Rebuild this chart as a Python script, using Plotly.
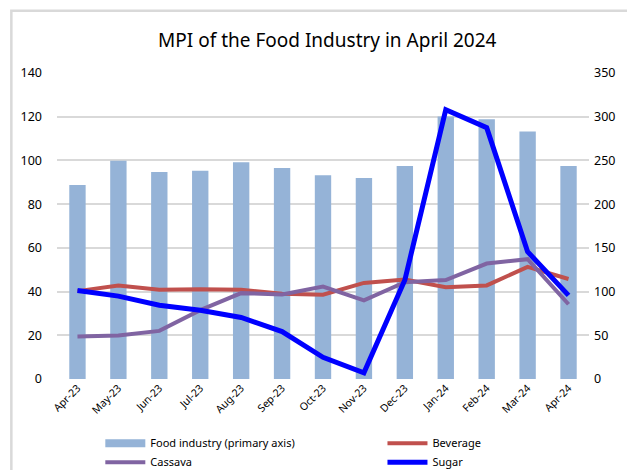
import plotly.graph_objects as go

months = ["Apr-23", "May-23", "Jun-23", "Jul-23", "Aug-23", "Sep-23", "Oct-23",
          "Nov-23", "Dec-23", "Jan-24", "Feb-24", "Mar-24", "Apr-24"]
food = [88.7, 99.8, 94.7, 95.3, 99.2, 96.5, 93.2, 92.0, 97.4, 120.1, 118.8, 113.2, 97.4]
beverage = [100.5, 107.0, 102.0, 102.7, 102.0, 97.5, 96.3, 109.9, 113.7, 105.0, 107.0, 128.3, 114.4]
cassava = [48.5, 49.7, 55.0, 78.7, 98.2, 96.7, 105.8, 90.0, 110.6, 113.2, 132.0, 137.0, 85.5]
sugar = [101.2, 94.8, 84.3, 78.7, 70.4, 54.2, 24.8, 7.1, 113.2, 308.0, 287.5, 145.6, 95.6]

left_ticks = [0, 20, 40, 60, 80, 100, 120, 140]
right_ticks = [0, 50, 100, 150, 200, 250, 300, 350]

FONT = "Noto Sans"
BAR_COLOR = "#95b3d7"

fig = go.Figure()
fig.add_trace(go.Bar(x=months, y=food, name="Food industry (primary axis)",
                     marker=dict(color=BAR_COLOR, line=dict(width=0)), yaxis="y",
                     showlegend=False))
# legend-only swatch for the bar series (wide rectangle like the reference)
fig.add_trace(go.Scatter(x=[None], y=[None], name="Food industry (primary axis)", mode="lines",
                         line=dict(color=BAR_COLOR, width=8), yaxis="y", legend="legend",
                         hoverinfo="skip"))
fig.add_trace(go.Scatter(x=months, y=beverage, name="Beverage", mode="lines",
                         line=dict(color="#c0504d", width=4), yaxis="y2", legend="legend2"))
fig.add_trace(go.Scatter(x=months, y=cassava, name="Cassava", mode="lines",
                         line=dict(color="#8064a2", width=4), yaxis="y2", legend="legend"))
fig.add_trace(go.Scatter(x=months, y=sugar, name="Sugar", mode="lines",
                         line=dict(color="#0000ff", width=5), yaxis="y2", legend="legend2"))

legend_common = dict(orientation="h", xref="container", yref="container",
                     xanchor="left", yanchor="top", y=0.088,
                     entrywidth=400, entrywidthmode="pixels",
                     font=dict(family=FONT, size=11, color="#000000"),
                     tracegroupgap=0, itemwidth=40, bgcolor="rgba(0,0,0,0)",
                     traceorder="normal")

fig.update_layout(
    width=627, height=470,
    margin=dict(l=57, r=34, t=73, b=87),
    paper_bgcolor="white", plot_bgcolor="white",
    font=dict(family=FONT, size=12, color="#000000"),
    title=dict(text="MPI of the Food Industry in April 2024", x=0.522, xanchor="center",
               y=0.915, yanchor="middle", font=dict(family=FONT, size=19, color="#000000")),
    bargap=0.6,
    showlegend=True,
    legend=dict(x=0.160, **legend_common),
    legend2=dict(x=0.610, **legend_common),
    xaxis=dict(type="category", tickangle=-45, showgrid=False, showline=False,
               ticks="", tickfont=dict(family=FONT, size=10.5), zeroline=False),
    yaxis=dict(range=[0, 140], tickvals=left_ticks, showgrid=True, gridcolor="#d9d9d9",
               gridwidth=1.5, zeroline=False, showline=False, ticks="",
               ticklabelstandoff=14, tickfont=dict(family=FONT, size=12.5)),
    yaxis2=dict(range=[0, 350], tickvals=right_ticks, overlaying="y", side="right",
                showgrid=False, zeroline=False, showline=False, ticks="",
                ticklabelstandoff=4, tickfont=dict(family=FONT, size=12.5)),
    shapes=[dict(type="rect", xref="paper", yref="paper",
                 x0=(11 - 57) / 536, x1=(640 - 57) / 536,
                 y0=(383 - 480) / 310, y1=(383 - 10) / 310,
                 line=dict(color="#d9d9d9", width=2.5), fillcolor="rgba(0,0,0,0)",
                 layer="below")],
)

fig.write_html("out.html", config={"displayModeBar": False},
               post_script="document.body.style.margin='0px';document.body.style.overflow='hidden';")
